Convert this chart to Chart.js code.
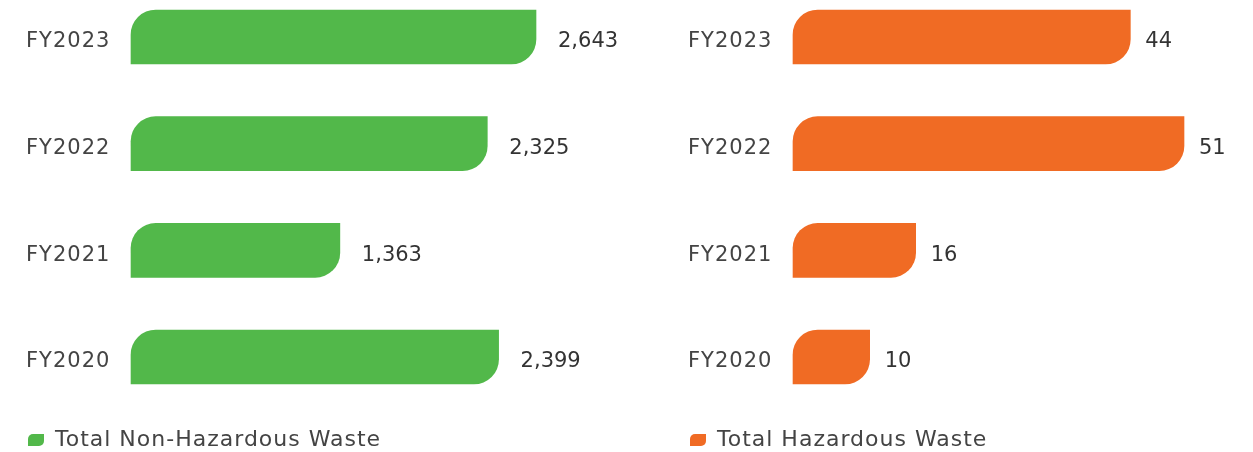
<!DOCTYPE html>
<html>
<head>
<meta charset="utf-8">
<script src="https://cdn.jsdelivr.net/npm/chart.js@4"></script>
<style>
  html, body { margin: 0; padding: 0; background: #fff; overflow: hidden; }
  #wrap { position: relative; width: 1253px; height: 452px; }
  #c1 { position: absolute; left: 0; top: 0; }
  #c2 { position: absolute; left: 662px; top: 0; }
</style>
</head>
<body>
<div id="wrap">
  <canvas id="c1" width="662" height="461"></canvas>
  <canvas id="c2" width="591" height="461"></canvas>
</div>
<script>
const categories = ['FY2023', 'FY2022', 'FY2021', 'FY2020'];
const nonHazardous = [2643, 2325, 1363, 2399];
const hazardous = [44, 51, 16, 10];
const seriesNames = ['Total Non-Hazardous Waste', 'Total Hazardous Waste'];
const colors = ['#52B84A', '#F06B24'];

const FONT = "'DejaVu Sans', sans-serif";
const TEXT = '#444444';

const spacing = {
  id: 'spacing',
  beforeUpdate(chart) { chart.ctx.letterSpacing = '1px'; },
  beforeLayout(chart) { chart.ctx.letterSpacing = '1px'; },
  beforeDraw(chart) { chart.ctx.letterSpacing = '1px'; }
};

const valueLabels = {
  id: 'valueLabels',
  afterDatasetsDraw(chart, args, opts) {
    const ctx = chart.ctx;
    ctx.save();
    ctx.letterSpacing = '0px';
    ctx.font = `21px ${FONT}`;
    ctx.fillStyle = '#333333';
    ctx.textAlign = 'left';
    ctx.textBaseline = 'middle';
    chart.data.datasets.forEach((ds, i) => {
      chart.getDatasetMeta(i).data.forEach((bar, j) => {
        ctx.fillText(ds.data[j].toLocaleString('en-US'), bar.x + opts.offset, bar.y + 5);
      });
    });
    ctx.restore();
  }
};

function makeChart(id, label, data, color, max, padRight, offset) {
  return new Chart(document.getElementById(id), {
    type: 'bar',
    data: {
      labels: categories,
      datasets: [{
        label: label,
        data: data,
        backgroundColor: color,
        borderWidth: 0,
        borderSkipped: false,
        borderRadius: { topLeft: 25, topRight: 0, bottomLeft: 0, bottomRight: 25 },
        barThickness: 54,
        clip: false
      }]
    },
    options: {
      indexAxis: 'y',
      responsive: false,
      animation: false,
      devicePixelRatio: 1,
      layout: { padding: { left: 26, top: 37, right: padRight, bottom: 0 } },
      scales: {
        x: {
          min: 0, max: max,
          grid: { display: false },
          border: { display: false },
          ticks: { display: false },
          afterFit(s) { s.height = 70; }
        },
        y: {
          type: 'category',
          offset: false,
          grid: { display: false },
          border: { display: false },
          ticks: {
            crossAlign: 'far',
            labelOffset: 5,
            color: TEXT,
            font: { family: FONT, size: 21 }
          },
          afterFit(s) { s.width = 105; }
        }
      },
      plugins: {
        tooltip: { enabled: false },
        valueLabels: { offset: offset },
        legend: {
          position: 'bottom',
          align: 'start',
          labels: {
            boxWidth: 16,
            boxHeight: 12,
            padding: 2,
            color: TEXT,
            font: { family: FONT, size: 22 },
            useBorderRadius: true,
            borderRadius: { topLeft: 5, topRight: 0, bottomLeft: 0, bottomRight: 5 }
          }
        }
      }
    },
    plugins: [spacing, valueLabels]
  });
}

makeChart('c1', seriesNames[0], nonHazardous, colors[0], 3400, 10, 22);
makeChart('c2', seriesNames[1], hazardous, colors[1], 60, 0, 15);
</script>
</body>
</html>
